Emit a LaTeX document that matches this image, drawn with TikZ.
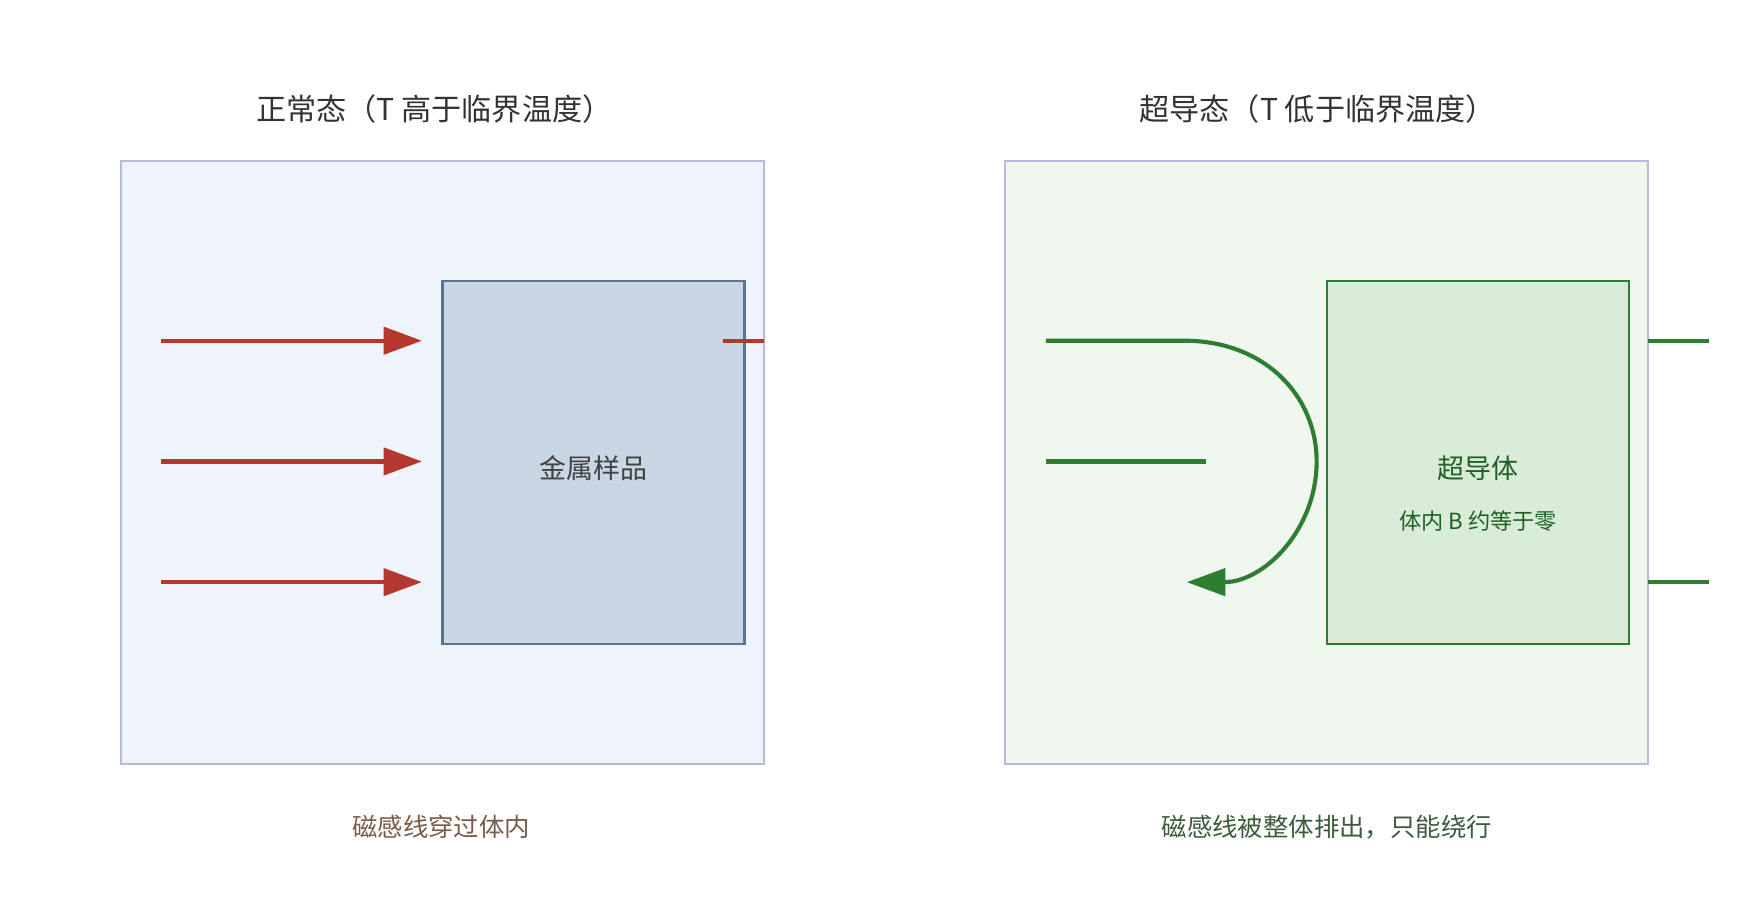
\documentclass[tikz,border=0pt]{standalone}
\usepackage{fontspec}
\setmainfont{Noto Sans CJK SC}
\usetikzlibrary{arrows.meta}
\definecolor{fieldred}{HTML}{B5382E}
\definecolor{fieldgreen}{HTML}{2E7D32}
\begin{document}
\begin{tikzpicture}[x=0.025cm,y=-0.025cm]
		\tikzstyle{panel}=[draw=gray!60!blue!40,line width=1.2pt]
		\tikzstyle{sample}=[draw,line width=1.6pt]
		\tikzstyle{redline}=[fieldred,line width=2.6pt]
		\tikzstyle{greenline}=[fieldgreen,line width=2.6pt]
		\tikzstyle{tip}=[-{Triangle[length=0.85cm,width=0.6cm]}]
		\tikzstyle{title}=[font=\fontsize{19}{22}\selectfont,text=black!80]
		\useasboundingbox (0,0) rectangle (1560,815);
		
		% normal state
		\node [title] (t1) at (385,97) {正常态（T 高于临界温度）};
		\draw [panel,fill={rgb,255:red,239;green,243;blue,250}] (107,143) rectangle (677,677);
		\draw [sample,draw={rgb,255:red,91;green,114;blue,144},fill={rgb,255:red,201;green,215;blue,229}] (392,249) rectangle (660,571);
		\node [font=\fontsize{17}{20}\selectfont,text=black!75] (metal) at (526,415) {金属样品};
		\foreach \y in {302,409,516} {
			\coordinate (a\y) at (143,\y);
			\coordinate (b\y) at (374,\y);
			\draw [redline,tip] (a\y) -- (b\y);
		}
		\coordinate (c1) at (641,302);
		\coordinate (c2) at (677,302);
		\draw [redline] (c1) -- (c2);
		\node [font=\fontsize{16}{19}\selectfont,text={rgb,255:red,122;green,90;blue,74}] (cap1) at (391,733) {磁感线穿过体内};
		
		% superconducting state
		\node [title] (t2) at (1168,97) {超导态（T 低于临界温度）};
		\draw [panel,fill={rgb,255:red,239;green,247;blue,238}] (891,143) rectangle (1461,677);
		\draw [sample,draw=fieldgreen,fill={rgb,255:red,217;green,236;blue,216}] (1176,249) rectangle (1444,571);
		\node [font=\fontsize{17}{20}\selectfont,text={rgb,255:red,31;green,94;blue,36}] (sc) at (1310,415) {超导体};
		\node [font=\fontsize{14}{17}\selectfont,text={rgb,255:red,31;green,94;blue,36}] (scb) at (1310,462) {体内 B 约等于零};
		\coordinate (g1) at (927,302);
		\coordinate (g2) at (1050,302);
		\coordinate (g3) at (1167,409);
		\coordinate (g4) at (1052,516);
		\draw [greenline,tip] (g1) -- (g2) .. controls (1120,302) and (1167,350) .. (g3)
			.. controls (1167,470) and (1120,516) .. (g4);
		\coordinate (h1) at (927,409);
		\coordinate (h2) at (1069,409);
		\draw [greenline] (h1) -- (h2);
		\foreach \y in {302,516} {
			\coordinate (r\y) at (1461,\y);
			\coordinate (s\y) at (1515,\y);
			\draw [greenline] (r\y) -- (s\y);
		}
		\node [font=\fontsize{16}{19}\selectfont,text={rgb,255:red,61;green,90;blue,61}] (cap2) at (1176,733) {磁感线被整体排出，只能绕行};
\end{tikzpicture}
\end{document}
